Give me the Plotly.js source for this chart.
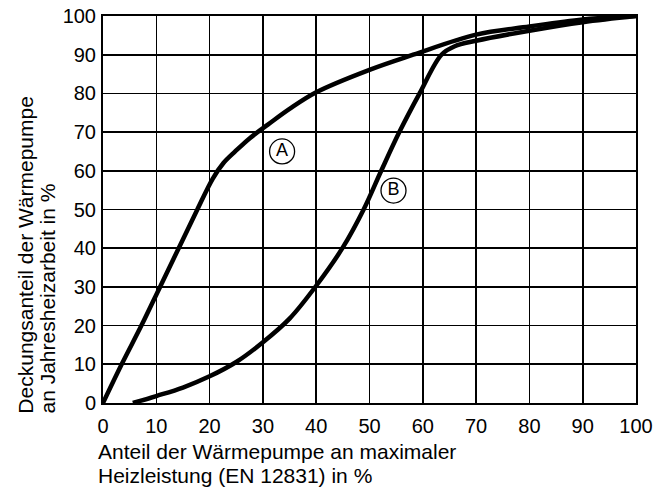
<!DOCTYPE html>
<html>
<head>
<meta charset="utf-8">
<script src="https://cdn.plot.ly/plotly-3.0.1.min.js"></script>
<style>html,body{margin:0;padding:0;background:#fff;}#chart{width:670px;height:490px;}</style>
</head>
<body>
<div id="chart"></div>
<script>
// Curve A
const curveAx = [0, 3.5, 7.2, 10.7, 14.2, 17.7, 20.6, 22.6, 24.8, 27.6, 31, 35, 40, 50, 58.2, 70, 80, 90, 100];
const curveAy = [0, 10, 20, 30, 40, 50, 58, 62, 65, 68.5, 72, 76, 80.3, 86.1, 90, 95.2, 97.3, 99.1, 100];
// Curve B
const curveBx = [5.6, 10, 15, 20, 25, 30, 35, 40, 45, 48.9, 52.2, 55.6, 59.4, 63.5, 66, 70, 80, 90, 100];
const curveBy = [0, 1.8, 4, 6.9, 10.6, 15.7, 21.8, 30.3, 40.2, 50, 60, 70, 80, 90, 92.2, 93.6, 96.2, 98.4, 100];
// Curve labels
const labelText = ['A', 'B'];
const labelX = [33.6, 54.5];
const labelY = [65, 54.9];
// Ticks
const tickVals = [0, 10, 20, 30, 40, 50, 60, 70, 80, 90, 100];
const tickText = ['0', '10', '20', '30', '40', '50', '60', '70', '80', '90', '100'];
// Titles
const xTitleLines = ['Anteil der Wärmepumpe an maximaler', 'Heizleistung (EN 12831) in %'];
const yTitleLines = ['Deckungsanteil der Wärmepumpe', 'an Jahresheizarbeit in %'];

const FONT = 'Liberation Sans, Arial, sans-serif';

const traces = [
  {x: curveAx, y: curveAy, mode: 'lines', line: {color: '#000', width: 4.5, shape: 'spline', smoothing: 1}, hoverinfo: 'skip'},
  {x: curveBx, y: curveBy, mode: 'lines', line: {color: '#000', width: 4.5, shape: 'spline', smoothing: 1}, hoverinfo: 'skip'},
  {x: labelX, y: labelY, text: labelText, mode: 'markers+text', textposition: 'middle center',
   marker: {symbol: 'circle', size: 25, color: '#fff', line: {color: '#000', width: 1.3}},
   textfont: {family: FONT, size: 18, color: '#000'}, hoverinfo: 'skip'}
];

const axisCommon = {
  range: [0, 100], tickvals: tickVals, ticktext: tickText,
  showgrid: true, gridcolor: '#000', gridwidth: 1.6,
  showline: true, linecolor: '#000', linewidth: 2, mirror: true,
  zeroline: false, ticks: '', tickfont: {family: FONT, size: 20, color: '#000'},
  fixedrange: true
};

const titleFont = {family: FONT, size: 21, color: '#000'};
const annotations = [
  {xref: 'paper', yref: 'paper', x: -0.014, y: -0.091, xanchor: 'left', yanchor: 'top', text: xTitleLines[0], showarrow: false, font: titleFont},
  {xref: 'paper', yref: 'paper', x: -0.014, y: -0.152, xanchor: 'left', yanchor: 'top', text: xTitleLines[1], showarrow: false, font: titleFont},
  {xref: 'paper', yref: 'paper', x: -0.171, y: -0.033, xanchor: 'left', yanchor: 'bottom', textangle: -90, text: yTitleLines[0], showarrow: false, font: titleFont},
  {xref: 'paper', yref: 'paper', x: -0.129, y: -0.033, xanchor: 'left', yanchor: 'bottom', textangle: -90, text: yTitleLines[1], showarrow: false, font: titleFont}
];

const layout = {
  width: 670, height: 490,
  margin: {l: 103, r: 34, t: 16, b: 87},
  paper_bgcolor: '#fff', plot_bgcolor: '#fff',
  showlegend: false,
  xaxis: Object.assign({}, axisCommon, {ticklabelstandoff: 4}),
  yaxis: Object.assign({}, axisCommon, {ticklabelstandoff: 1}),
  annotations: annotations
};

Plotly.newPlot('chart', traces, layout, {staticPlot: true});
</script>
</body>
</html>
